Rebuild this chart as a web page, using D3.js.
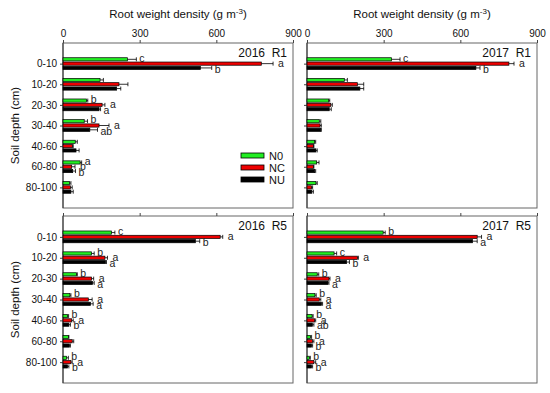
<!DOCTYPE html>
<html>
<head>
<meta charset="utf-8">
<script src="https://cdn.jsdelivr.net/npm/d3@7"></script>
<style>
  html,body{margin:0;padding:0;background:#fff;}
  svg{display:block;font-family:Arial,"Liberation Sans",sans-serif;}
</style>
</head>
<body>
<svg id="chart" width="550" height="393"></svg>
<script>
/* ---------- data ---------- */
const depths = ["0-10","10-20","20-30","30-40","40-60","60-80","80-100"];
const treatments = ["N0","NC","NU"];
const colors = ["#22ee22","#ee0000","#000000"];
const xTicks = [0,300,600,900];

// means, rows = N0, NC, NU
const mean2016R1 = [[252,145,92,83,48,67,26],[776,219,153,141,37,34,29],[538,210,141,105,51,38,31]];
const err2016R1  = [[35,13,5,13,8,6,5],[46,35,11,39,3,13,7],[44,16,6,30,12,11,9]];
const sig2016R1  = [["c","","b","b","","a",""],["a","","a","a","","b",""],["b","","a","ab","","b",""]];

const mean2017R1 = [[331,146,85,48,30,38,35],[790,197,93,51,25,25,18],[661,207,87,54,35,30,19]];
const err2017R1  = [[33,12,4,6,4,9,5],[20,25,6,5,2,2,4],[16,15,8,2,5,4,6]];
const sig2017R1  = [["c","","","","","",""],["a","","","","","",""],["b","","","","","",""]];

const mean2016R5 = [[190,112,53,27,18,21,14],[615,164,112,99,34,36,31],[518,166,116,108,23,25,18]];
const err2016R5  = [[13,10,3,4,4,2,7],[10,10,8,15,6,6,5],[17,4,6,10,6,4,5]];
const sig2016R5  = [["c","b","b","b","b","","b"],["a","a","a","a","a","","a"],["b","a","a","a","b","","b"]];

const mean2017R5 = [[298,106,40,31,20,14,9],[666,197,86,48,30,21,27],[648,155,82,57,21,18,18]];
const err2017R5  = [[8,10,6,5,4,4,4],[17,4,4,6,4,6,7],[18,11,4,4,6,4,4]];
const sig2017R5  = [["b","c","b","b","b","b","b"],["a","a","a","a","a","a","a"],["a","b","a","a","ab","b","b"]];

/* ---------- layout ---------- */
const svg = d3.select("#chart");
const COL = [{x0:63,x1:293},{x0:307,x1:537}];
const ROW = [{y0:43,y1:208},{y0:216,y1:383}];

const panels = [
  {c:0,r:0,label:"2016  R1",mean:mean2016R1,err:err2016R1,sig:sig2016R1,legend:true},
  {c:1,r:0,label:"2017  R1",mean:mean2017R1,err:err2017R1,sig:sig2017R1},
  {c:0,r:1,label:"2016  R5",mean:mean2016R5,err:err2016R5,sig:sig2016R5},
  {c:1,r:1,label:"2017  R5",mean:mean2017R5,err:err2017R5,sig:sig2017R5}
];

const barH = 3.2, barStep = 4.3;
const sigDy = [1.5,3.5,6];   // letters sit a bit apart like in the original

panels.forEach(p=>{
  const {x0,x1}=COL[p.c], {y0,y1}=ROW[p.r];
  const x=d3.scaleLinear().domain([0,900]).range([x0,x1]);
  const y=d3.scalePoint().domain(depths).range([y0,y1]).padding(1);
  const g=svg.append("g");

  // frame
  g.append("rect").attr("x",x0).attr("y",y0).attr("width",x1-x0).attr("height",y1-y0)
   .attr("fill","none").attr("stroke","#666").attr("stroke-width",1);
  g.append("line").attr("x1",x0).attr("x2",x0).attr("y1",y0).attr("y2",y1)
   .attr("stroke","#333");

  // top axis
  const ax=g.append("g").attr("transform",`translate(0,${y0})`)
    .call(d3.axisTop(x).tickValues(xTicks).tickSize(3).tickFormat(p.r===0?d3.format("d"):""));
  ax.select(".domain").remove();
  ax.selectAll("line").attr("stroke","#444");
  ax.selectAll("text").attr("font-size",10).attr("fill","#111").attr("y",-6)
    .attr("font-family","Arial, Liberation Sans, sans-serif");

  // left axis
  const ay=g.append("g").attr("transform",`translate(${x0},0)`)
    .call(d3.axisLeft(y).tickSize(3).tickFormat(p.c===0?(d=>d):""));
  ay.select(".domain").remove();
  ay.selectAll("line").attr("stroke","#444");
  ay.selectAll("text").attr("font-size",10).attr("fill","#111").attr("x",-6)
    .attr("font-family","Arial, Liberation Sans, sans-serif");

  // bars
  treatments.forEach((t,ti)=>{
    const off=(ti-1)*barStep;
    depths.forEach((d,di)=>{
      const v=p.mean[ti][di], e=p.err[ti][di], s=p.sig[ti][di];
      const cy=y(d)+off;
      g.append("rect").attr("x",x(0)).attr("y",cy-barH/2)
       .attr("width",x(v)-x(0)).attr("height",barH)
       .attr("fill",colors[ti]).attr("stroke","#000").attr("stroke-width",0.7);
      // error bar
      g.append("line").attr("x1",x(v)).attr("x2",x(v+e)).attr("y1",cy).attr("y2",cy)
       .attr("stroke","#000").attr("stroke-width",0.8);
      g.append("line").attr("x1",x(v+e)).attr("x2",x(v+e)).attr("y1",cy-2).attr("y2",cy+2)
       .attr("stroke","#000").attr("stroke-width",0.8);
      if(s){
        g.append("text").attr("x",x(v+e)+(ti===1?5:3)).attr("y",y(d)+(ti-1)*barStep*1.3+sigDy[1])
         .attr("font-size",10.5).attr("fill","#222").text(s);
      }
    });
  });

  // panel label
  g.append("text").attr("x",x1-6).attr("y",y0+14).attr("text-anchor","end")
   .attr("font-size",12).attr("fill","#111").attr("xml:space","preserve").text(p.label);

  // axis title on top row
  if(p.r===0){
    const tt=svg.append("text").attr("x",(x0+x1)/2).attr("y",18).attr("text-anchor","middle")
      .attr("font-size",11.5).attr("fill","#111");
    tt.append("tspan").text("Root weight density (g m");
    tt.append("tspan").attr("font-size",8).attr("dy",-4).text("-3");
    tt.append("tspan").attr("dy",4).text(")");
  }
  // y title on left column
  if(p.c===0){
    svg.append("text").attr("transform",`translate(19,${(y0+y1)/2}) rotate(-90)`)
      .attr("text-anchor","middle").attr("font-size",11.5).attr("fill","#111")
      .text("Soil depth (cm)");
  }

  // legend
  if(p.legend){
    const lg=g.append("g");
    treatments.forEach((t,ti)=>{
      const ly=155.5+ti*12;
      lg.append("rect").attr("x",241).attr("y",ly-2.5).attr("width",23).attr("height",5)
        .attr("fill",colors[ti]).attr("stroke","#000").attr("stroke-width",0.8);
      lg.append("text").attr("x",269).attr("y",ly+4).attr("font-size",11)
        .attr("fill","#111").text(t);
    });
  }
});
</script>
</body>
</html>
